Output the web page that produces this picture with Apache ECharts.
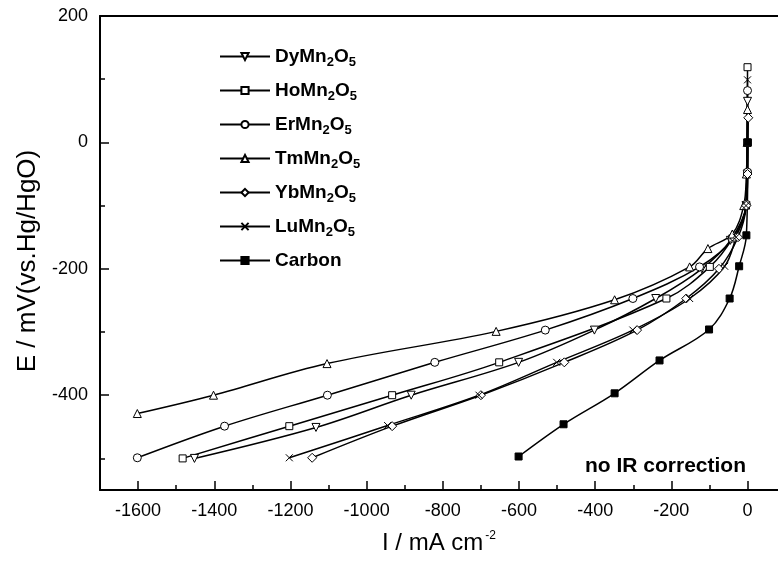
<!DOCTYPE html>
<html>
<head>
<meta charset="utf-8">
<script src="https://cdn.jsdelivr.net/npm/echarts@6/dist/echarts.min.js"></script>
<style>
  html, body { margin: 0; padding: 0; background: #fff; }
  #chart { width: 778px; height: 562px; }
</style>
</head>
<body>
<div id="chart"></div>
<script>
// tick values
const xTickLabels = [-1600, -1400, -1200, -1000, -800, -600, -400, -200, 0]
const xMinorTicks = [-1500, -1300, -1100, -900, -700, -500, -300, -100]
const yTickLabels = [200, 0, -200, -400]
const yMinorTicks = [100, -100, -300, -500]

// [I (mA cm-2), E (mV)]
const dyMn2O5 = [[0, 65], [-1, -50], [-4, -100], [-45, -155], [-120, -200], [-241, -247], [-402, -297], [-601, -348], [-883, -400], [-1133, -451], [-1452, -500]]
const hoMn2O5 = [[0, 119], [-1, 0], [-4, -100], [-40, -152], [-99, -197], [-213, -247], [-652, -348], [-933, -400], [-1203, -449], [-1483, -500]]
const erMn2O5 = [[0, 82], [0, -47], [-3, -98], [-35, -150], [-126, -197], [-301, -247], [-531, -297], [-821, -348], [-1103, -400], [-1373, -449], [-1602, -499]]
const tmMn2O5 = [[0, 52], [-1, 0], [-3, -50], [-10, -100], [-40, -145], [-104, -168], [-152, -197], [-349, -249], [-660, -299], [-1104, -350], [-1402, -400], [-1602, -429]]
const ybMn2O5 = [[2, 39], [0, -50], [-3, -100], [-25, -150], [-75, -200], [-161, -247], [-290, -297], [-481, -348], [-700, -400], [-933, -449], [-1143, -499]]
const luMn2O5 = [[0, 99], [-1, 0], [-4, -100], [-30, -150], [-60, -196], [-152, -247], [-301, -297], [-501, -348], [-705, -400], [-945, -448], [-1203, -499]]
const carbon = [[1, 0], [-3, -147], [-22, -196], [-47, -247], [-101, -296], [-231, -345], [-349, -397], [-483, -446], [-601, -497]]

const seriesList = [
  { name: 'DyMn2O5', data: dyMn2O5, symbol: 'triangle', rotate: 180, size: 8 },
  { name: 'HoMn2O5', data: hoMn2O5, symbol: 'rect', size: 7 },
  { name: 'ErMn2O5', data: erMn2O5, symbol: 'circle', size: 8 },
  { name: 'TmMn2O5', data: tmMn2O5, symbol: 'triangle', size: 8 },
  { name: 'YbMn2O5', data: ybMn2O5, symbol: 'diamond', size: 9 },
  { name: 'LuMn2O5', data: luMn2O5, symbol: 'path://M0,0L10,10M10,0L0,10', size: 7 },
  { name: 'Carbon', data: carbon, symbol: 'rect', size: 7, filled: true }
]

const font = 'Liberation Sans, Arial, sans-serif'
const chart = echarts.init(document.getElementById('chart'))

const series = seriesList.map(function (s) {
  return {
    name: s.name,
    type: 'line',
    data: s.data,
    smooth: 0.35,
    symbol: s.symbol,
    symbolSize: s.size,
    symbolRotate: s.rotate || 0,
    showAllSymbol: true,
    lineStyle: { color: '#000', width: 1.5 },
    itemStyle: {
      color: s.filled ? '#000' : '#fff',
      borderColor: '#000',
      borderWidth: 1
    },
    emphasis: { disabled: true },
    z: 3
  }
})

function legendText(name) {
  return name.split(/(\d)/).filter(Boolean).map(function (p) {
    return /\d/.test(p) ? '{s|' + p + '}' : '{a|' + p + '}'
  }).join('')
}

const axisLine = { onZero: false, lineStyle: { color: '#000', width: 2 } }
const plainNumber = function (v) { return String(v) }

const option = {
  backgroundColor: '#fff',
  animation: false,
  textStyle: { fontFamily: font, color: '#000' },
  grid: { left: 100, right: 0, top: 16, bottom: 72 },
  legend: {
    orient: 'vertical',
    left: 214,
    top: 42,
    itemWidth: 50,
    itemHeight: 9,
    itemGap: 12,
    formatter: legendText,
    textStyle: {
      rich: {
        a: { fontFamily: font, fontSize: 19, fontWeight: 'bold', color: '#000', height: 20 },
        s: { fontFamily: font, fontSize: 13, fontWeight: 'bold', color: '#000', padding: [12, 0, 0, 0] }
      }
    },
    data: seriesList.map(function (s) { return s.name })
  },
  xAxis: [{
    type: 'value',
    min: -1700,
    max: 80,
    position: 'bottom',
    name: '{a|I / mA cm}{s|-2}',
    nameLocation: 'middle',
    nameGap: 40,
    nameTextStyle: {
      rich: {
        a: { fontFamily: font, fontSize: 24, color: '#000' },
        s: { fontFamily: font, fontSize: 12, color: '#000', padding: [0, 0, 14, 2] }
      }
    },
    axisLine: axisLine,
    axisTick: { inside: true, length: 9, lineStyle: { color: '#000', width: 1.5 }, customValues: xTickLabels },
    axisLabel: { customValues: xTickLabels, formatter: plainNumber, fontSize: 18, color: '#000', margin: 12 },
    splitLine: { show: false }
  }, {
    type: 'value',
    min: -1700,
    max: 80,
    position: 'bottom',
    axisLine: { show: false, onZero: false },
    axisTick: { inside: true, length: 5, lineStyle: { color: '#000', width: 1.5 }, customValues: xMinorTicks },
    axisLabel: { show: false },
    splitLine: { show: false }
  }, {
    type: 'value',
    min: -1700,
    max: 80,
    position: 'top',
    axisLine: axisLine,
    axisTick: { show: false },
    axisLabel: { show: false },
    splitLine: { show: false }
  }],
  yAxis: [{
    type: 'value',
    min: -550,
    max: 200,
    position: 'left',
    name: 'E / mV(vs.Hg/HgO)',
    nameLocation: 'middle',
    nameGap: 56,
    nameTextStyle: { fontFamily: font, fontSize: 26, color: '#000', padding: [0, 16, 0, 0] },
    axisLine: axisLine,
    axisTick: { inside: true, length: 9, lineStyle: { color: '#000', width: 1.5 }, customValues: yTickLabels },
    axisLabel: { customValues: yTickLabels, formatter: plainNumber, fontSize: 18, color: '#000', margin: 12 },
    splitLine: { show: false }
  }, {
    type: 'value',
    min: -550,
    max: 200,
    position: 'left',
    axisLine: { show: false, onZero: false },
    axisTick: { inside: true, length: 5, lineStyle: { color: '#000', width: 1.5 }, customValues: yMinorTicks },
    axisLabel: { show: false },
    splitLine: { show: false }
  }],
  graphic: [{
    type: 'text',
    left: 585,
    top: 456,
    style: { text: 'no IR correction', fontFamily: font, fontSize: 21, fontWeight: 'bold', fill: '#000' }
  }],
  series: series
}

chart.setOption(option)
</script>
</body>
</html>
